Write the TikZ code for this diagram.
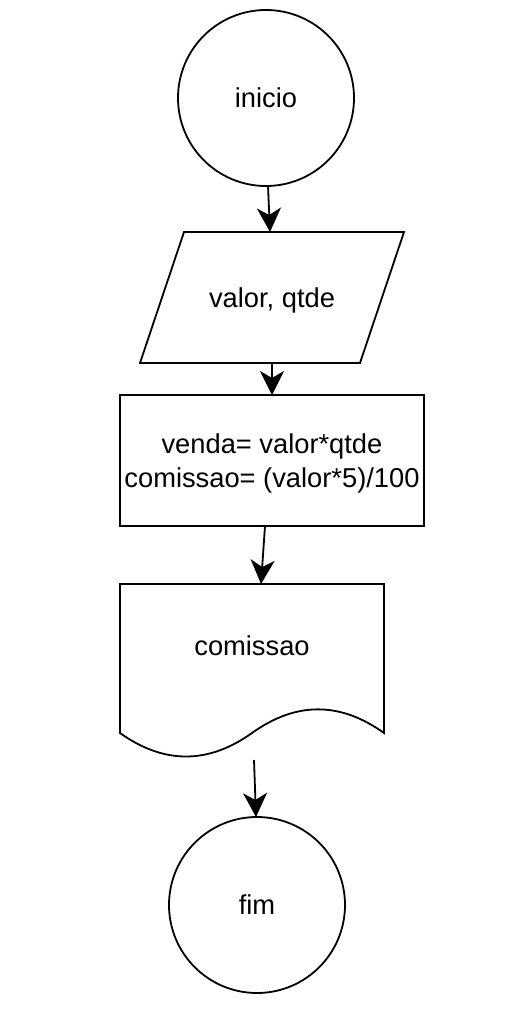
\documentclass[tikz,border=0pt]{standalone}
\usepackage{fontspec}
\setmainfont{Liberation Sans}
\usetikzlibrary{arrows.meta}
\begin{document}
\begin{tikzpicture}[x=1pt,y=-1pt,
  shapeline/.style={draw=black, line width=1.8pt, line join=miter},
  lbl/.style={font=\fontsize{27.3}{34}\selectfont, align=center, inner sep=0pt},
  termcircle/.style={shapeline, circle, minimum size=176pt, inner sep=0pt, outer sep=0pt, font=\fontsize{27.3}{34}\selectfont},
  flowarrow/.style={draw=black, line width=1.8pt, -{Stealth[length=24pt, width=24pt, inset=7pt]}}]
\useasboundingbox (0,0) rectangle (508,1017);
\fill[white] (0,0) rectangle (508,1017);

% start
\node[termcircle] (inicio) at (266,98) {inicio};

% input parallelogram
\draw[shapeline] (184,232) -- (404,232) -- (360,363) -- (140,363) -- cycle;
\node[lbl] (entrada) at (272,300) {valor, qtde};
\coordinate (entradaTop) at (270,232);
\coordinate (entradaBot) at (272,363);

% process rectangle
\draw[shapeline] (120,395) rectangle (424,526);
\node[lbl] (proc) at (272,463) {venda= valor*qtde\\comissao= (valor*5)/100};
\coordinate (procTop) at (272,395);
\coordinate (procBot) at (265,526);

% document
\draw[shapeline] (120,584) -- (384,584) -- (384,733)
  .. controls (340,701.47) and (296,701.47) .. (252,733)
  .. controls (208,764.33) and (164,764.33) .. (120,733) -- cycle;
\node[lbl] (saida) at (252,646) {comissao};
\coordinate (saidaTop) at (261,584);
\coordinate (saidaBot) at (254,760);

% end
\node[termcircle] (fim) at (257,905) {fim};
\coordinate (fimTop) at (256,817);

% connectors
\draw[flowarrow] (268,186) -- (entradaTop);
\draw[flowarrow] (entradaBot) -- (procTop);
\draw[flowarrow] (procBot) -- (saidaTop);
\draw[flowarrow] (saidaBot) -- (fimTop);
\end{tikzpicture}
\end{document}
